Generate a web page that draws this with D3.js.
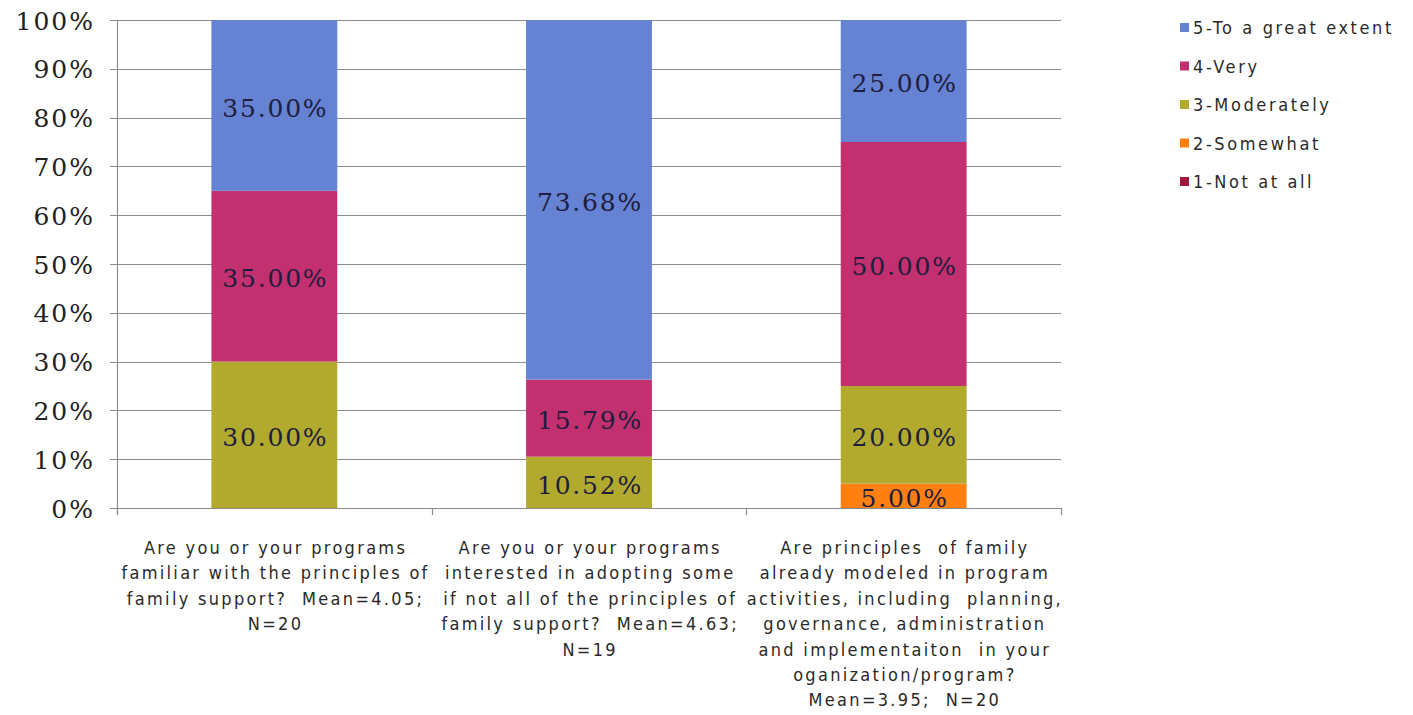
<!DOCTYPE html>
<html>
<head>
<meta charset="utf-8">
<script src="https://cdn.jsdelivr.net/npm/d3@7"></script>
<style>
  html, body { margin: 0; padding: 0; background: #ffffff; }
  svg { display: block; }
  text { white-space: pre; }
</style>
</head>
<body>
<svg id="chart" width="1413" height="715"></svg>
<script>
// Survey questions (x categories), each wrapped onto display lines
const questions = [
  ["Are you or your programs", "familiar with the principles of", "family support?  Mean=4.05;", "N=20"],
  ["Are you or your programs", "interested in adopting some", "if not all of the principles of", "family support?  Mean=4.63;", "N=19"],
  ["Are principles  of family", "already modeled in program", "activities, including  planning,", "governance, administration", "and implementaiton  in your", "oganization/program?", "Mean=3.95;  N=20"]
];

// Response levels, bottom of stack first
const levels = ["1-Not at all", "2-Somewhat", "3-Moderately", "4-Very", "5-To a great extent"];
const levelColors = ["#a3173c", "#ff8010", "#b1aa2f", "#c2306f", "#6682d3"];

// Share of respondents (%) per level, one array per level across the three questions
const notAtAll   = [0, 0, 0];
const somewhat   = [0, 0, 5.00];
const moderately = [30.00, 10.52, 20.00];
const very       = [35.00, 15.79, 50.00];
const greatExtent= [35.00, 73.68, 25.00];

const yTicks = [0, 10, 20, 30, 40, 50, 60, 70, 80, 90, 100];

const seriesValues = [notAtAll, somewhat, moderately, very, greatExtent];
const rows = questions.map((q, i) => {
  const r = { idx: i };
  levels.forEach((lv, j) => { r[lv] = seriesValues[j][i]; });
  return r;
});

const svg = d3.select("#chart");
const plot = { left: 117, right: 1061, top: 20, bottom: 508 };

const x = d3.scaleBand()
  .domain(questions.map((d, i) => i))
  .range([plot.left, plot.right])
  .paddingInner(0.6)
  .paddingOuter(0.3);

const y = d3.scaleLinear().domain([0, 100]).range([plot.bottom, plot.top]);

// Horizontal gridlines
svg.append("g")
  .selectAll("line")
  .data(yTicks)
  .join("line")
  .attr("x1", plot.left - 7)
  .attr("x2", plot.right)
  .attr("y1", d => Math.round(y(d)) + 0.5)
  .attr("y2", d => Math.round(y(d)) + 0.5)
  .attr("stroke", "#8c8c8c")
  .attr("stroke-width", 1.2);

// Y axis line
svg.append("line")
  .attr("x1", plot.left + 0.5).attr("x2", plot.left + 0.5)
  .attr("y1", plot.top).attr("y2", plot.bottom + 7)
  .attr("stroke", "#8c8c8c").attr("stroke-width", 1.2);

// Y tick labels
svg.append("g")
  .selectAll("text")
  .data(yTicks)
  .join("text")
  .attr("x", 95)
  .attr("y", d => y(d))
  .attr("dy", "0.38em")
  .attr("text-anchor", "end")
  .attr("font-family", "'DejaVu Serif', serif")
  .attr("font-size", 25)
  .attr("letter-spacing", 2)
  .attr("fill", "#222")
  .text(d => d + "%");

// Stacked bars
const stack = d3.stack().keys(levels);
const stacked = stack(rows);

const layers = svg.append("g")
  .selectAll("g")
  .data(stacked)
  .join("g")
  .attr("fill", (d, i) => levelColors[i]);

layers.selectAll("rect")
  .data(d => d)
  .join("rect")
  .attr("x", d => x(d.data.idx))
  .attr("width", x.bandwidth())
  .attr("y", d => y(d[1]))
  .attr("height", d => y(d[0]) - y(d[1]));

// X axis line and category ticks
svg.append("line")
  .attr("x1", plot.left - 7).attr("x2", plot.right)
  .attr("y1", plot.bottom + 0.5).attr("y2", plot.bottom + 0.5)
  .attr("stroke", "#8c8c8c").attr("stroke-width", 1.2);

const boundaries = d3.range(questions.length + 1).map(i => plot.left + i * (plot.right - plot.left) / questions.length);
svg.append("g")
  .selectAll("line")
  .data(boundaries)
  .join("line")
  .attr("x1", d => Math.round(d) + 0.5)
  .attr("x2", d => Math.round(d) + 0.5)
  .attr("y1", plot.bottom)
  .attr("y2", plot.bottom + 7)
  .attr("stroke", "#8c8c8c").attr("stroke-width", 1.2);

// Segment value labels
const labelData = [];
stacked.forEach((layer, i) => {
  layer.forEach(d => {
    const v = d.data[levels[i]];
    if (v > 0) labelData.push({ v, mid: (d[0] + d[1]) / 2, idx: d.data.idx });
  });
});

svg.append("g")
  .selectAll("text")
  .data(labelData)
  .join("text")
  .attr("x", d => x(d.idx) + x.bandwidth() / 2 + 1)
  .attr("y", d => y(d.mid))
  .attr("dy", "0.45em")
  .attr("text-anchor", "middle")
  .attr("font-family", "'DejaVu Serif', serif")
  .attr("font-size", 25)
  .attr("letter-spacing", 1.8)
  .attr("fill", "#1d1d3d")
  .text(d => d.v.toFixed(2) + "%");

// Category labels
const cat = svg.append("g")
  .selectAll("text")
  .data(questions)
  .join("text")
  .attr("text-anchor", "middle")
  .attr("font-family", "'DejaVu Sans Condensed', 'DejaVu Sans', sans-serif")
  .attr("font-size", 18)
  .attr("letter-spacing", 2.3)
  .attr("fill", "#2a2a2a");

cat.selectAll("tspan")
  .data((d, i) => d.map(line => ({ line, i })))
  .join("tspan")
  .attr("x", d => x(d.i) + x.bandwidth() / 2 + 1.2)
  .attr("y", (d, k) => 554 + k * 25.4)
  .text(d => d.line);

// Legend, top level first
const legendItems = levels.map((lv, i) => ({ lv, c: levelColors[i] })).reverse();
const legend = svg.append("g")
  .selectAll("g")
  .data(legendItems)
  .join("g")
  .attr("transform", (d, i) => `translate(1180, ${28 + i * 38.5})`);

legend.append("rect")
  .attr("x", 0).attr("y", -5)
  .attr("width", 9).attr("height", 9)
  .attr("fill", d => d.c);

legend.append("text")
  .attr("x", 13)
  .attr("y", 0)
  .attr("dy", "0.35em")
  .attr("font-family", "'DejaVu Sans Condensed', 'DejaVu Sans', sans-serif")
  .attr("font-size", 18)
  .attr("letter-spacing", 2.6)
  .attr("fill", "#2a2a2a")
  .text(d => d.lv);
</script>
</body>
</html>
